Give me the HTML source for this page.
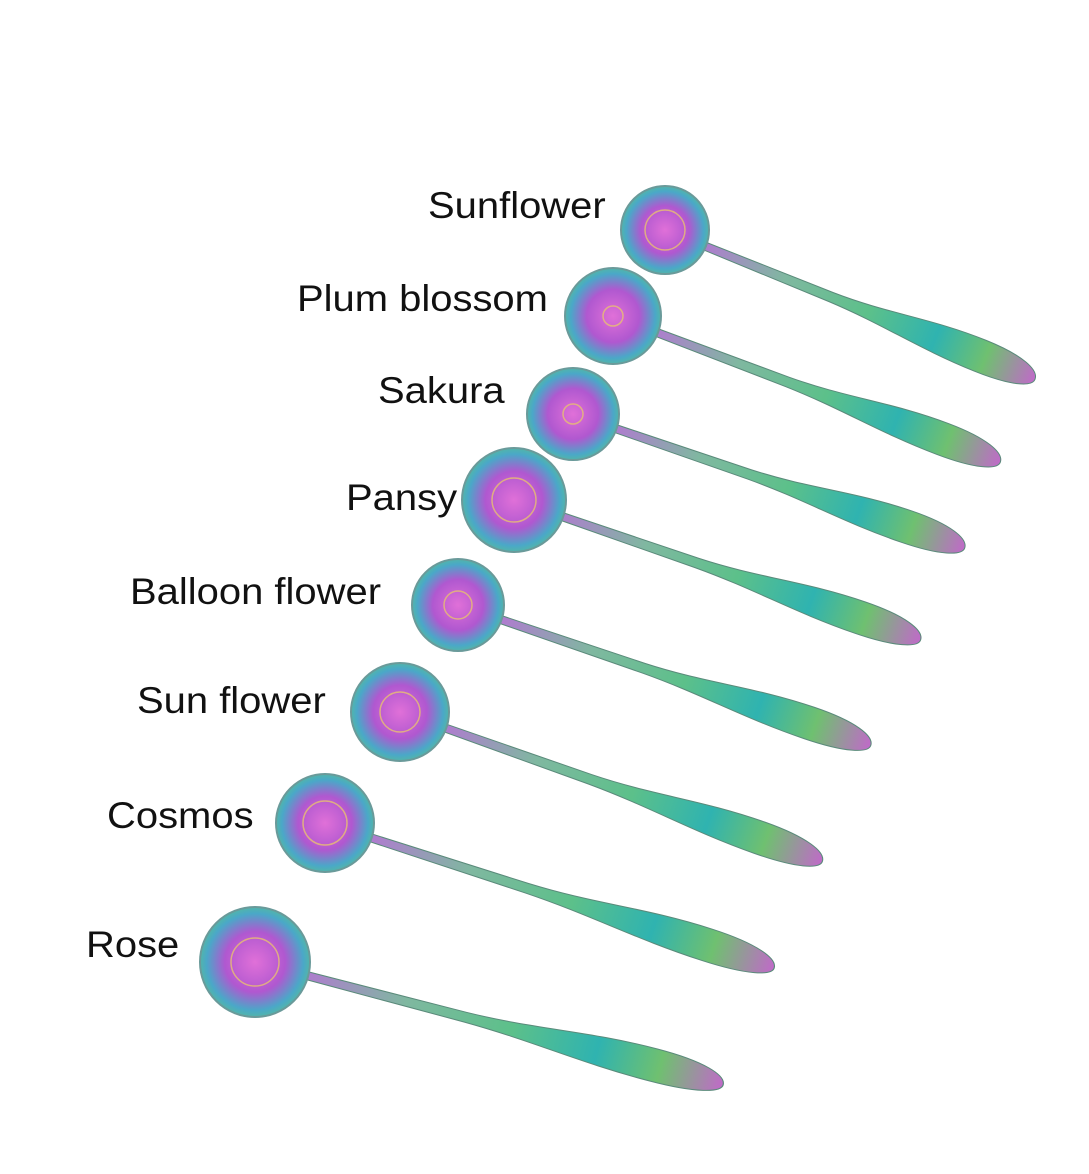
<!DOCTYPE html>
<html><head><meta charset="utf-8"><style>
html,body{margin:0;padding:0;background:#fff}
body{width:1089px;height:1174px;position:relative;overflow:hidden;font-family:"Liberation Sans",sans-serif}
.l{position:absolute;font-size:37px;color:#111;white-space:nowrap;line-height:1;transform:scaleX(1.08);transform-origin:0 0}
svg{position:absolute;left:0;top:0}
</style></head><body>
<svg width="1089" height="1174" viewBox="0 0 1089 1174">
<defs>
<linearGradient id="hg" x1="0" y1="0" x2="1" y2="0">
<stop offset="0" stop-color="#b07ad0"/><stop offset="0.25" stop-color="#7fb8a0"/>
<stop offset="0.5" stop-color="#5cc08a"/><stop offset="0.7" stop-color="#2fb3b0"/>
<stop offset="0.85" stop-color="#6fc070"/><stop offset="1" stop-color="#c06ac8"/>
</linearGradient>
<radialGradient id="sg" cx="0.5" cy="0.5" r="0.55">
<stop offset="0" stop-color="#e070d8"/><stop offset="0.5" stop-color="#b058d0"/>
<stop offset="0.8" stop-color="#4aa8c8"/><stop offset="1" stop-color="#58c090"/>
</radialGradient>
<path id="h" d="M40,-4 L180,-5 C240,-6 280,-18 340,-18 C380,-18 400,-10 400,0 C400,8 380,15 340,15 C280,15 240,6 180,5 L40,4 Z" fill="url(#hg)" stroke="#5a8a7a" stroke-width="1"/>
</defs>
<g transform="translate(665,230) rotate(22)"><use href="#h" transform="scale(0.9975,1)"/></g>
<g transform="translate(613,316) rotate(20.7)"><use href="#h" transform="scale(1.035,1)"/></g>
<g transform="translate(573,414) rotate(18.9)"><use href="#h" transform="scale(1.035,1)"/></g>
<g transform="translate(514,500) rotate(19)"><use href="#h" transform="scale(1.075,1)"/></g>
<g transform="translate(458,605) rotate(18.8)"><use href="#h" transform="scale(1.09,1)"/></g>
<g transform="translate(400,712) rotate(19.5)"><use href="#h" transform="scale(1.12,1)"/></g>
<g transform="translate(325,823) rotate(17.9)"><use href="#h" transform="scale(1.18,1)"/></g>
<g transform="translate(255,962) rotate(14.7)"><use href="#h" transform="scale(1.21,1)"/></g>
<g fill="url(#sg)" stroke="#6a9a9a" stroke-width="2">
<circle cx="665" cy="230" r="44"/>
<circle cx="613" cy="316" r="48"/>
<circle cx="573" cy="414" r="46"/>
<circle cx="514" cy="500" r="52"/>
<circle cx="458" cy="605" r="46"/>
<circle cx="400" cy="712" r="49"/>
<circle cx="325" cy="823" r="49"/>
<circle cx="255" cy="962" r="55"/>
</g>
<g fill="none" stroke="#e8c070" stroke-width="1.5" opacity="0.8">
<circle cx="665" cy="230" r="20"/><circle cx="613" cy="316" r="10"/><circle cx="573" cy="414" r="10"/>
<circle cx="514" cy="500" r="22"/><circle cx="458" cy="605" r="14"/><circle cx="400" cy="712" r="20"/>
<circle cx="325" cy="823" r="22"/><circle cx="255" cy="962" r="24"/>
</g>
</svg>
<div class="l" style="left:428px;top:187px">Sunflower</div>
<div class="l" style="left:297px;top:280px">Plum blossom</div>
<div class="l" style="left:378px;top:372px">Sakura</div>
<div class="l" style="left:346px;top:479px">Pansy</div>
<div class="l" style="left:130px;top:573px">Balloon flower</div>
<div class="l" style="left:137px;top:682px">Sun flower</div>
<div class="l" style="left:107px;top:797px">Cosmos</div>
<div class="l" style="left:86px;top:926px">Rose</div>
</body></html>
